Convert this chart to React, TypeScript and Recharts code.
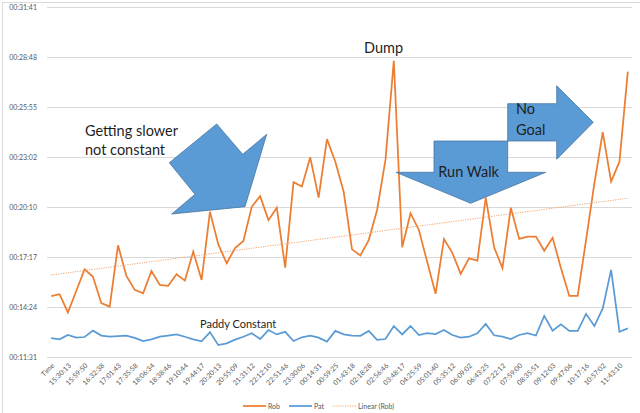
import React from 'react';
import { LineChart, Line, XAxis, YAxis, CartesianGrid, Legend } from 'recharts';

const CATEGORY_LABELS = [
  'Time', '15:30:13', '15:59:50', '16:32:38', '17:01:43', '17:35:58', '18:06:34', '18:38:46',
  '19:10:44', '19:44:17', '20:20:13', '20:55:09', '21:31:12', '22:12:10', '22:51:46', '23:30:06',
  '00:14:31', '00:59:25', '01:43:18', '02:18:28', '02:56:46', '03:48:17', '04:25:59', '05:01:40',
  '05:35:12', '06:09:02', '06:43:25', '07:22:12', '07:59:00', '08:35:51', '09:12:03', '09:47:06',
  '10:17:16', '10:57:02', '11:43:10',
];

// lap times in seconds
const ROB = [
  903, 910, 847, 921, 996, 970, 879, 867, 1079, 973,
  925, 913, 990, 942, 939, 979, 957, 1057, 959, 1195,
  1082, 1017, 1069, 1094, 1212, 1249, 1166, 1209, 1002, 1297,
  1282, 1383, 1244, 1446, 1368, 1264, 1065, 1044, 1097, 1201,
  1374, 1717, 1072, 1190, 1132, 1021, 911, 1101, 1053, 980,
  1034, 1026, 1244, 1072, 1000, 1209, 1101, 1109, 1109, 1060,
  1105, 1000, 904, 904, 1097, 1293, 1470, 1299, 1368, 1679,
];

const PAT = [
  758, 754, 769, 760, 762, 784, 767, 763, 765, 767,
  759, 748, 754, 763, 767, 771, 763, 754, 747, 779,
  734, 740, 753, 763, 775, 755, 786, 771, 780, 748,
  761, 767, 760, 746, 783, 771, 767, 766, 783, 752,
  755, 800, 771, 800, 769, 775, 772, 786, 769, 760,
  763, 775, 807, 768, 763, 755, 769, 775, 767, 835,
  784, 806, 783, 783, 842, 800, 861, 994, 780, 792,
];

const Y_TICKS = [691.2, 864, 1036.8, 1209.6, 1382.4, 1555.2, 1728, 1900.8];

const LEGEND_ORDER = ['rob', 'pat', 'trend'];

const ROB_COLOR = '#ed7d31';
const PAT_COLOR = '#5b9bd5';
const TREND_COLOR = '#f2a774';
const AXIS_TEXT = '#595959';
const GRID = '#d9d9d9';
const FONT = 'Lato, "Noto Sans", sans-serif';

// least-squares linear trend of Rob (as Excel's "Linear (Rob)")
const n = ROB.length;
const meanX = (n - 1) / 2;
const meanY = ROB.reduce((a, b) => a + b, 0) / n;
let sxy = 0;
let sxx = 0;
ROB.forEach((v, i) => {
  sxy += (i - meanX) * (v - meanY);
  sxx += (i - meanX) * (i - meanX);
});
const slope = sxy / sxx;
const intercept = meanY - slope * meanX;

const data = ROB.map((r, i) => ({
  idx: i,
  rob: r,
  pat: PAT[i],
  trend: intercept + slope * i,
}));

const pad = (v: number) => String(v).padStart(2, '0');
const fmt = (s: number) => {
  const t = Math.round(s);
  const h = Math.floor(t / 3600);
  const m = Math.floor((t % 3600) / 60);
  const sec = t % 60;
  return `${pad(h)}:${pad(m)}:${pad(sec)}`;
};

const XTick = (props: any) => {
  const { x, y, payload } = props;
  const i = Number(payload.value);
  if (i % 2 !== 0) return null;
  const label = CATEGORY_LABELS[i / 2];
  const ax = x + 1.5;
  const ay = y - 1.5;
  return (
    <text
      x={ax}
      y={ay}
      transform={`rotate(-45 ${ax} ${ay})`}
      textAnchor="end"
      dominantBaseline="central"
      fontSize={7}
      fill={AXIS_TEXT}
      fontFamily={FONT}
    >
      {label}
    </text>
  );
};

const LEGEND_STYLE: Record<string, { color: string; dash?: string; width: number }> = {
  rob: { color: ROB_COLOR, width: 1.75 },
  pat: { color: PAT_COLOR, width: 1.75 },
  trend: { color: TREND_COLOR, dash: '1.2 1.2', width: 1 },
};

const LegendContent = (props: any) => {
  const items = ([...(props.payload || [])] as any[]).sort(
    (a, b) => LEGEND_ORDER.indexOf(a.dataKey) - LEGEND_ORDER.indexOf(b.dataKey),
  );
  return (
    <div style={{ display: 'flex', justifyContent: 'center', alignItems: 'center', height: 14, paddingLeft: 14 }}>
      {items.map((it) => {
        const st = LEGEND_STYLE[it.dataKey] || { color: it.color, width: 1.5 };
        return (
          <div key={it.dataKey} style={{ display: 'flex', alignItems: 'center', marginRight: 9 }}>
            <svg width={23} height={6} style={{ marginRight: 2 }}>
              <line x1={0} y1={3} x2={23} y2={3} stroke={st.color} strokeWidth={st.width} strokeDasharray={st.dash} />
            </svg>
            <span style={{ fontSize: 7, color: AXIS_TEXT, fontFamily: FONT }}>{it.value}</span>
          </div>
        );
      })}
    </div>
  );
};

const ARROW_FILL = '#5b9bd5';
const ARROW_STROKE = '#41719c';
const NOTE_TEXT = '#1f1f1f';

const Annotations = () => (
  <svg width={640} height={413} style={{ position: 'absolute', left: 0, top: 0, pointerEvents: 'none' }}>
    <rect x={2.5} y={2.5} width={660} height={430} fill="none" stroke={GRID} strokeWidth={1} />
    <polygon
      points="171.7,214 195,194.3 169.3,162.7 216.7,124 242.7,154.3 266.7,134.3 245,206.7"
      fill={ARROW_FILL}
      stroke={ARROW_STROKE}
      strokeWidth={0.75}
    />
    <polygon
      points="434,141 507.7,141 507.7,172.3 545.7,172.3 470.7,203.3 396,172.3 434,172.3"
      fill={ARROW_FILL}
      stroke={ARROW_STROKE}
      strokeWidth={0.75}
    />
    <polygon
      points="507.7,103.7 556.7,103.7 556.7,85.7 593.3,122.3 556.7,159.3 556.7,141 507.7,141"
      fill={ARROW_FILL}
      stroke={ARROW_STROKE}
      strokeWidth={0.75}
    />
    <g fontFamily={FONT} fill={NOTE_TEXT}>
      <text x={85} y={136} fontSize={14.5}>Getting slower</text>
      <text x={85} y={154.5} fontSize={14.5}>not constant</text>
      <text x={364} y={52.5} fontSize={14.5}>Dump</text>
      <text x={438.3} y={176.7} fontSize={14.5}>Run Walk</text>
      <text x={516} y={114.3} fontSize={14.5}>No</text>
      <text x={516} y={135.3} fontSize={14.5}>Goal</text>
      <text x={200} y={327.8} fontSize={11}>Paddy Constant</text>
    </g>
  </svg>
);

export default function App() {
  return (
    <div style={{ position: 'absolute', left: 0, top: 0, width: 640, height: 413, background: '#fff' }}>
      <LineChart width={640} height={413} data={data} margin={{ top: 7.5, right: 8, bottom: 0, left: 0 }}>
        <CartesianGrid vertical={false} stroke={GRID} strokeWidth={1} />
        <XAxis
          dataKey="idx"
          type="category"
          scale="point"
          padding={{ left: 4.18, right: 4.18 }}
          interval={0}
          height={41.5}
          axisLine={{ stroke: GRID }}
          tickLine={false}
          tick={<XTick />}
        />
        <YAxis
          width={47}
          type="number"
          domain={[Y_TICKS[0], Y_TICKS[Y_TICKS.length - 1]]}
          ticks={Y_TICKS}
          tickFormatter={fmt}
          axisLine={false}
          tickLine={false}
          tickMargin={4}
          tick={{ fontSize: 7, fill: AXIS_TEXT, fontFamily: FONT }}
        />
        <Line
          dataKey="rob"
          name="Rob"
          stroke={ROB_COLOR}
          strokeWidth={1.75}
          dot={false}
          activeDot={false}
          isAnimationActive={false}
        />
        <Line
          dataKey="pat"
          name="Pat"
          stroke={PAT_COLOR}
          strokeWidth={1.75}
          dot={false}
          activeDot={false}
          isAnimationActive={false}
        />
        <Line
          dataKey="trend"
          name="Linear (Rob)"
          stroke={TREND_COLOR}
          strokeWidth={1}
          strokeDasharray="1.2 1.2"
          dot={false}
          activeDot={false}
          isAnimationActive={false}
        />
        <Legend verticalAlign="bottom" height={14} content={<LegendContent />} />
      </LineChart>
      <Annotations />
    </div>
  );
}
